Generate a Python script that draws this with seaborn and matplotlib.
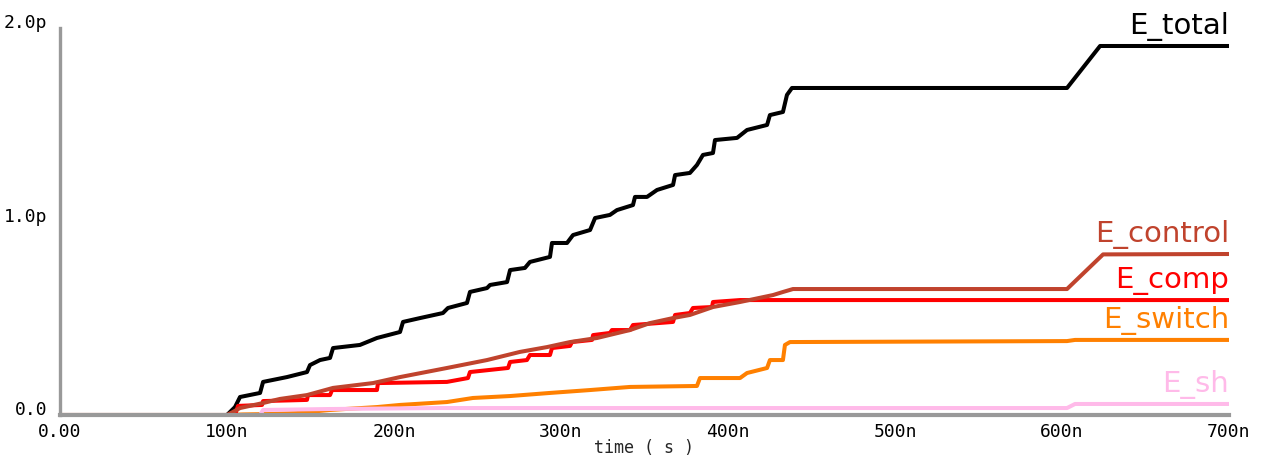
import matplotlib
matplotlib.use("Agg")
import matplotlib.pyplot as plt
import seaborn as sns
from matplotlib.ticker import MultipleLocator, FixedLocator, FixedFormatter

# time in ns, energy in pJ
total_t = [0, 100, 104.8, 107.8, 119.8, 121.6, 135.9, 147.9, 149.7, 155.7, 161.7, 163.5,
           179.6, 189.8, 203.6, 205.4, 215.6, 229.3, 232.3, 243.7, 245.5, 255.7, 257.5,
           267.7, 269.5, 278.4, 281.4, 293.4, 294.6, 303.6, 307.2, 317.4, 320.4, 329.3,
           333.5, 343.1, 344.3, 351.5, 357.5, 367.1, 368.3, 377.2, 381.4, 385.0, 391.0,
           392.2, 405.4, 411.4, 423.4, 425.1, 432.9, 435.3, 438.3, 603.0, 622.8, 700]
total_e = [0, 0, 0.041, 0.093, 0.114, 0.171, 0.196, 0.222, 0.258, 0.284, 0.295, 0.346,
           0.362, 0.398, 0.429, 0.481, 0.501, 0.527, 0.553, 0.579, 0.636, 0.656, 0.672,
           0.687, 0.749, 0.760, 0.791, 0.817, 0.889, 0.889, 0.930, 0.956, 1.018, 1.034,
           1.059, 1.085, 1.127, 1.127, 1.163, 1.189, 1.240, 1.251, 1.292, 1.344, 1.354,
           1.421, 1.432, 1.473, 1.499, 1.550, 1.566, 1.654, 1.690, 1.690, 1.907, 1.907]

control_t = [0, 100, 103.6, 107.8, 121.6, 131.7, 147.9, 163.5, 187.4, 203.6, 231.7, 255.7,
             275.4, 291.6, 305.4, 321.6, 341.3, 353.3, 367.1, 377.2, 391.0, 407.2, 427.0,
             433.0, 438.9, 603.0, 624.6, 700]
control_e = [0, 0, 0.016, 0.036, 0.062, 0.083, 0.103, 0.140, 0.165, 0.196, 0.243, 0.284,
             0.326, 0.351, 0.377, 0.398, 0.439, 0.475, 0.501, 0.517, 0.558, 0.584, 0.620,
             0.636, 0.651, 0.651, 0.830, 0.832]

comp_t = [0, 104.8, 106.6, 121.0, 121.6, 147.9, 148.5, 161.7, 162.9, 189.8, 190.4, 231.7,
          244.3, 245.5, 268.3, 269.5, 279.6, 281.4, 293.4, 294.6, 305.4, 306.6, 318.6,
          319.2, 329.3, 330.5, 341.3, 343.1, 367.1, 368.3, 377.2, 379.0, 390.4, 391.0,
          407.2, 700]
comp_e = [0, 0, 0.047, 0.052, 0.072, 0.078, 0.103, 0.103, 0.129, 0.129, 0.165, 0.171,
          0.191, 0.222, 0.243, 0.274, 0.284, 0.310, 0.310, 0.346, 0.357, 0.377, 0.388,
          0.413, 0.424, 0.439, 0.439, 0.465, 0.481, 0.517, 0.527, 0.553, 0.558, 0.584,
          0.594, 0.594]

switch_t = [0, 100, 109.6, 125.7, 141.9, 161.7, 189.8, 203.6, 231.7, 247.3, 269.5, 293.4,
            317.4, 341.3, 381.4, 383.2, 407.2, 411.4, 423.4, 425.1, 432.9, 434.1, 437.1,
            603.0, 607.8, 700]
switch_e = [0, 0, 0.003, 0.005, 0.010, 0.026, 0.041, 0.052, 0.067, 0.088, 0.098, 0.114,
            0.129, 0.145, 0.150, 0.191, 0.191, 0.217, 0.243, 0.284, 0.284, 0.362, 0.377,
            0.382, 0.388, 0.388]

sh_t = [0, 119.8, 121.6, 161.7, 227.5, 603.0, 607.8, 700]
sh_e = [0, 0, 0.026, 0.031, 0.036, 0.036, 0.057, 0.057]

x_ticks = [0, 100, 200, 300, 400, 500, 600, 700]
x_labels = ["0.00", "100n", "200n", "300n", "400n", "500n", "600n", "700n"]
y_ticks = [0.0, 1.0, 2.0]
y_labels = ["0.0", "1.0p", "2.0p"]

# draw order: first is at the bottom
series = [
    ("E_total", total_t, total_e, "#000000"),
    ("E_switch", switch_t, switch_e, "#ff8000"),
    ("E_sh", sh_t, sh_e, "#ffbae9"),
    ("E_comp", comp_t, comp_e, "#ff0000"),
    ("E_control", control_t, control_e, "#c0432d"),
]

sns.set_style("white")
plt.rcParams['font.family'] = ['DejaVu Sans']

fig = plt.figure(figsize=(12.64, 4.57), dpi=100)
ax = fig.add_axes([60 / 1264, 42 / 457, 1169 / 1264, 387 / 457])

for name, t, e, color in series:
    sns.lineplot(x=t, y=e, ax=ax, color=color, linewidth=2.9, sort=False,
                 estimator=None, legend=False)
    ax.annotate(name, xy=(t[-1], e[-1]), xytext=(0, 12), textcoords="offset pixels",
                ha="right", va="baseline", color=color, fontsize=21,
                fontweight="normal")

ax.set_xlim(0, 700)
ax.set_ylim(0, 2.0)

ax.xaxis.set_major_locator(FixedLocator(x_ticks))
ax.xaxis.set_major_formatter(FixedFormatter(x_labels))
ax.yaxis.set_major_locator(FixedLocator(y_ticks))
ax.yaxis.set_major_formatter(FixedFormatter(y_labels))
ax.xaxis.set_minor_locator(MultipleLocator(10))
ax.yaxis.set_minor_locator(MultipleLocator(0.1))

for side in ["top", "right"]:
    ax.spines[side].set_visible(False)
ax.spines["left"].set_color("#999999")
ax.spines["left"].set_linewidth(2.4)
ax.spines["bottom"].set_color("#999999")
ax.spines["bottom"].set_linewidth(3)

ax.tick_params(which="major", direction="in", length=5, width=2.2, color="black",
               labelsize=13, labelcolor="black")
ax.tick_params(which="minor", direction="in", length=4, width=1.6, color="#b0b0b0")
ax.tick_params(axis="x", which="major", pad=6)
ax.tick_params(axis="y", which="major", pad=9)

for lbl in ax.get_xticklabels() + ax.get_yticklabels():
    lbl.set_family("DejaVu Sans Mono")
for lbl in ax.get_yticklabels():
    lbl.set_verticalalignment("baseline")

ax.set_xlabel("time ( s )", family="DejaVu Sans Mono", fontsize=12)
ax.xaxis.set_label_coords(0.5, -0.062)
ax.set_ylabel("")

fig.savefig("out.png", dpi=100)
